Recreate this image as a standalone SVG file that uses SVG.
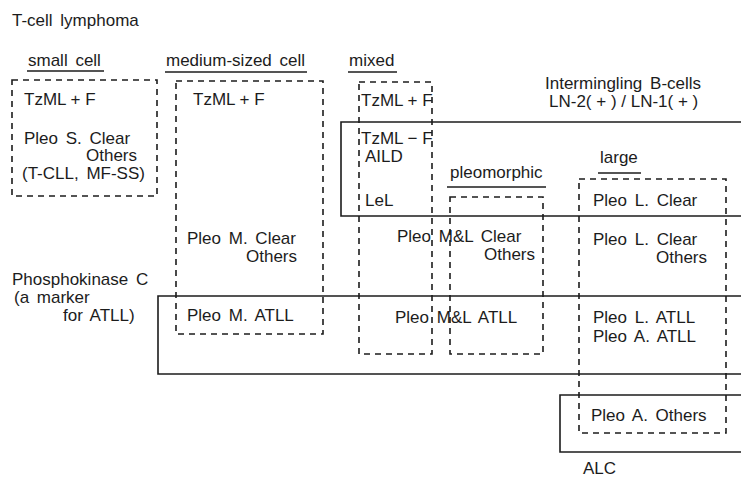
<svg xmlns="http://www.w3.org/2000/svg" width="741" height="478" viewBox="0 0 741 478">
  <style>
    text { font-family: "Liberation Sans", Arial, sans-serif; font-size: 17px; fill: #1c1c1c; word-spacing: 3px; }
    text.op { word-spacing: 0; }
    .dash { fill: none; stroke: #1c1c1c; stroke-width: 1.6; stroke-dasharray: 6 5; }
    .solid { fill: none; stroke: #1c1c1c; stroke-width: 1.6; }
    .ul { stroke: #1c1c1c; stroke-width: 1.4; }
  </style>
  <rect width="741" height="478" fill="#ffffff"/>

  <text x="12" y="26">T-cell lymphoma</text>

  <!-- column headings -->
  <g id="head-small">
    <text x="28" y="66">small cell</text>
    <line class="ul" x1="27" y1="71" x2="104" y2="71"/>
  </g>
  <g id="head-medium">
    <text x="166" y="66">medium-sized cell</text>
    <line class="ul" x1="165" y1="72" x2="307" y2="72"/>
  </g>
  <g id="head-mixed">
    <text x="349" y="66">mixed</text>
    <line class="ul" x1="348" y1="72" x2="397" y2="72"/>
  </g>
  <g id="head-pleomorphic">
    <text x="450" y="178">pleomorphic</text>
    <line class="ul" x1="447" y1="187" x2="546" y2="187"/>
  </g>
  <g id="head-large">
    <text x="600" y="163">large</text>
    <line class="ul" x1="598" y1="173" x2="641" y2="173"/>
  </g>

  <!-- marker regions (open to the right) -->
  <g id="intermingling">
    <path class="solid" d="M745 122 H341 V216 H745"/>
    <text x="545" y="89">Intermingling B-cells</text>
    <text class="op" x="549" y="107">LN-2( + ) / LN-1( + )</text>
  </g>
  <g id="phosphokinase">
    <path class="solid" d="M745 296 H158 V374 H745"/>
    <text x="12" y="285">Phosphokinase C</text>
    <text x="14" y="303">(a marker</text>
    <text x="63" y="321">for ATLL)</text>
  </g>
  <g id="alc">
    <path class="solid" d="M745 395 H560 V452 H745"/>
    <text x="583" y="474">ALC</text>
  </g>

  <!-- cell-size groups -->
  <g id="small-cell">
    <rect class="dash" x="12" y="80" width="145" height="116"/>
    <text class="op" x="24" y="105">TzML + F</text>
    <text x="24" y="144">Pleo S. Clear</text>
    <text x="86" y="161">Others</text>
    <text x="22" y="179">(T-CLL, MF-SS)</text>
  </g>
  <g id="medium-cell">
    <rect class="dash" x="176" y="81" width="147" height="253"/>
    <text class="op" x="193" y="105">TzML + F</text>
    <text x="187" y="244">Pleo M. Clear</text>
    <text x="246" y="262">Others</text>
    <text x="187" y="321">Pleo M. ATLL</text>
  </g>
  <g id="mixed">
    <rect class="dash" x="359" y="82" width="73" height="272"/>
    <text class="op" x="361" y="106">TzML + F</text>
    <text class="op" x="361" y="144">TzML − F</text>
    <text x="365" y="162">AILD</text>
    <text x="365" y="206">LeL</text>
  </g>
  <g id="pleomorphic">
    <rect class="dash" x="450" y="197" width="93" height="157"/>
    <text x="397" y="242">Pleo M&amp;L Clear</text>
    <text x="484" y="260">Others</text>
    <text x="395" y="323">Pleo M&amp;L ATLL</text>
  </g>
  <g id="large">
    <rect class="dash" x="579" y="179" width="147" height="254"/>
    <text x="593" y="206">Pleo L. Clear</text>
    <text x="593" y="245">Pleo L. Clear</text>
    <text x="656" y="263">Others</text>
    <text x="593" y="323">Pleo L. ATLL</text>
    <text x="593" y="342">Pleo A. ATLL</text>
    <text x="591" y="421">Pleo A. Others</text>
  </g>
</svg>
